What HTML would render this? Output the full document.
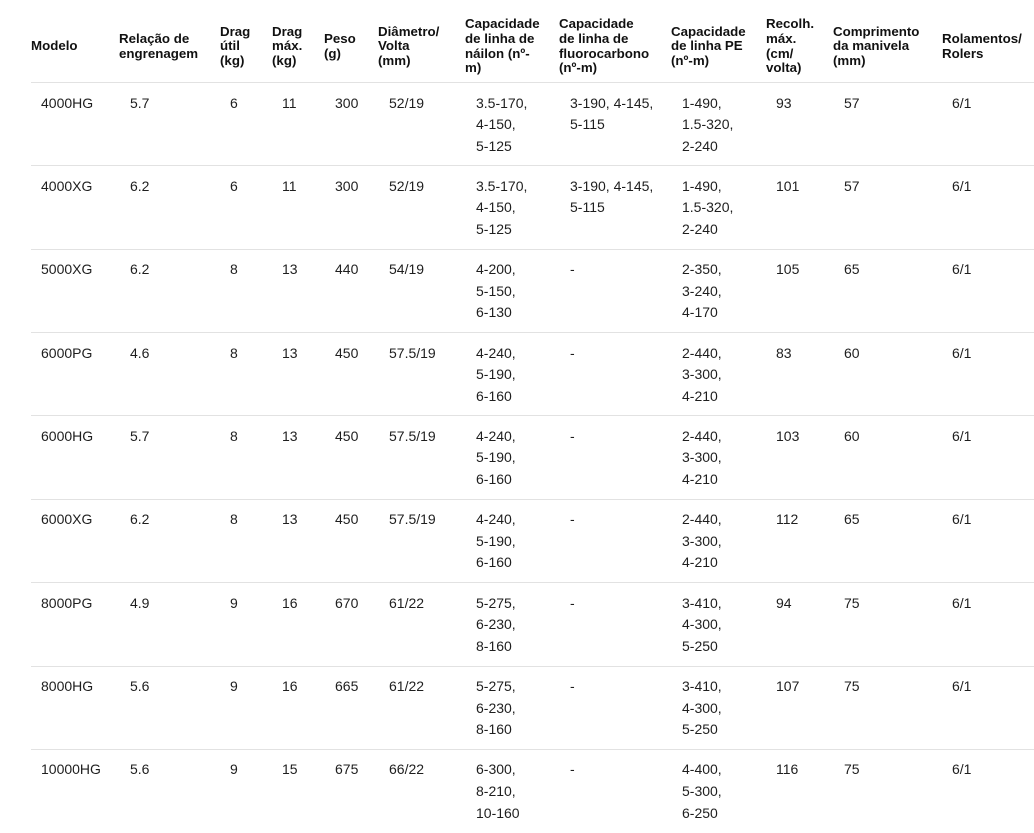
<!DOCTYPE html>
<html>
<head>
<meta charset="utf-8">
<style>
  html, body { margin:0; padding:0; background:#fff; }
  body { width:1034px; height:832px; position:relative; overflow:hidden;
         font-family:"Liberation Sans", Arial, sans-serif; }
  .h { position:absolute; top:10px; height:73px; display:flex; align-items:center;
       font-size:13.3px; font-weight:bold; line-height:14.6px; color:#111; white-space:nowrap; }
  .r { position:absolute; left:31px; width:1003px; height:83px; border-top:1px solid #e2e2e2; }
  .c { position:absolute; top:9.5px; font-size:14px; line-height:21.6px; color:#1e1e1e; white-space:nowrap; }
  .c0{left:10px}.c1{left:99px}.c2{left:199px}.c3{left:251px}.c4{left:304px}.c5{left:358px}
  .c6{left:445px}.c7{left:539px}.c8{left:651px}.c9{left:745px}.c10{left:813px}.c11{left:921px}
</style>
</head>
<body>
<div class="h" style="left:31px">Modelo</div>
<div class="h" style="left:119px">Relação de<br>engrenagem</div>
<div class="h" style="left:220px">Drag<br>útil<br>(kg)</div>
<div class="h" style="left:272px">Drag<br>máx.<br>(kg)</div>
<div class="h" style="left:324px">Peso<br>(g)</div>
<div class="h" style="left:378px">Diâmetro/<br>Volta<br>(mm)</div>
<div class="h" style="left:465px">Capacidade<br>de linha de<br>náilon (nº-<br>m)</div>
<div class="h" style="left:559px">Capacidade<br>de linha de<br>fluorocarbono<br>(nº-m)</div>
<div class="h" style="left:671px">Capacidade<br>de linha PE<br>(nº-m)</div>
<div class="h" style="left:766px">Recolh.<br>máx.<br>(cm/<br>volta)</div>
<div class="h" style="left:833px">Comprimento<br>da manivela<br>(mm)</div>
<div class="h" style="left:942px">Rolamentos/<br>Rolers</div>

<div class="r" style="top:82px">
  <div class="c c0">4000HG</div><div class="c c1">5.7</div><div class="c c2">6</div><div class="c c3">11</div>
  <div class="c c4">300</div><div class="c c5">52/19</div><div class="c c6">3.5-170,<br>4-150,<br>5-125</div>
  <div class="c c7">3-190, 4-145,<br>5-115</div><div class="c c8">1-490,<br>1.5-320,<br>2-240</div>
  <div class="c c9">93</div><div class="c c10">57</div><div class="c c11">6/1</div>
</div>
<div class="r" style="top:165.4px">
  <div class="c c0">4000XG</div><div class="c c1">6.2</div><div class="c c2">6</div><div class="c c3">11</div>
  <div class="c c4">300</div><div class="c c5">52/19</div><div class="c c6">3.5-170,<br>4-150,<br>5-125</div>
  <div class="c c7">3-190, 4-145,<br>5-115</div><div class="c c8">1-490,<br>1.5-320,<br>2-240</div>
  <div class="c c9">101</div><div class="c c10">57</div><div class="c c11">6/1</div>
</div>
<div class="r" style="top:248.7px">
  <div class="c c0">5000XG</div><div class="c c1">6.2</div><div class="c c2">8</div><div class="c c3">13</div>
  <div class="c c4">440</div><div class="c c5">54/19</div><div class="c c6">4-200,<br>5-150,<br>6-130</div>
  <div class="c c7">-</div><div class="c c8">2-350,<br>3-240,<br>4-170</div>
  <div class="c c9">105</div><div class="c c10">65</div><div class="c c11">6/1</div>
</div>
<div class="r" style="top:332px">
  <div class="c c0">6000PG</div><div class="c c1">4.6</div><div class="c c2">8</div><div class="c c3">13</div>
  <div class="c c4">450</div><div class="c c5">57.5/19</div><div class="c c6">4-240,<br>5-190,<br>6-160</div>
  <div class="c c7">-</div><div class="c c8">2-440,<br>3-300,<br>4-210</div>
  <div class="c c9">83</div><div class="c c10">60</div><div class="c c11">6/1</div>
</div>
<div class="r" style="top:415.4px">
  <div class="c c0">6000HG</div><div class="c c1">5.7</div><div class="c c2">8</div><div class="c c3">13</div>
  <div class="c c4">450</div><div class="c c5">57.5/19</div><div class="c c6">4-240,<br>5-190,<br>6-160</div>
  <div class="c c7">-</div><div class="c c8">2-440,<br>3-300,<br>4-210</div>
  <div class="c c9">103</div><div class="c c10">60</div><div class="c c11">6/1</div>
</div>
<div class="r" style="top:498.8px">
  <div class="c c0">6000XG</div><div class="c c1">6.2</div><div class="c c2">8</div><div class="c c3">13</div>
  <div class="c c4">450</div><div class="c c5">57.5/19</div><div class="c c6">4-240,<br>5-190,<br>6-160</div>
  <div class="c c7">-</div><div class="c c8">2-440,<br>3-300,<br>4-210</div>
  <div class="c c9">112</div><div class="c c10">65</div><div class="c c11">6/1</div>
</div>
<div class="r" style="top:582.1px">
  <div class="c c0">8000PG</div><div class="c c1">4.9</div><div class="c c2">9</div><div class="c c3">16</div>
  <div class="c c4">670</div><div class="c c5">61/22</div><div class="c c6">5-275,<br>6-230,<br>8-160</div>
  <div class="c c7">-</div><div class="c c8">3-410,<br>4-300,<br>5-250</div>
  <div class="c c9">94</div><div class="c c10">75</div><div class="c c11">6/1</div>
</div>
<div class="r" style="top:665.5px">
  <div class="c c0">8000HG</div><div class="c c1">5.6</div><div class="c c2">9</div><div class="c c3">16</div>
  <div class="c c4">665</div><div class="c c5">61/22</div><div class="c c6">5-275,<br>6-230,<br>8-160</div>
  <div class="c c7">-</div><div class="c c8">3-410,<br>4-300,<br>5-250</div>
  <div class="c c9">107</div><div class="c c10">75</div><div class="c c11">6/1</div>
</div>
<div class="r" style="top:748.9px">
  <div class="c c0">10000HG</div><div class="c c1">5.6</div><div class="c c2">9</div><div class="c c3">15</div>
  <div class="c c4">675</div><div class="c c5">66/22</div><div class="c c6">6-300,<br>8-210,<br>10-160</div>
  <div class="c c7">-</div><div class="c c8">4-400,<br>5-300,<br>6-250</div>
  <div class="c c9">116</div><div class="c c10">75</div><div class="c c11">6/1</div>
</div>
</body>
</html>
